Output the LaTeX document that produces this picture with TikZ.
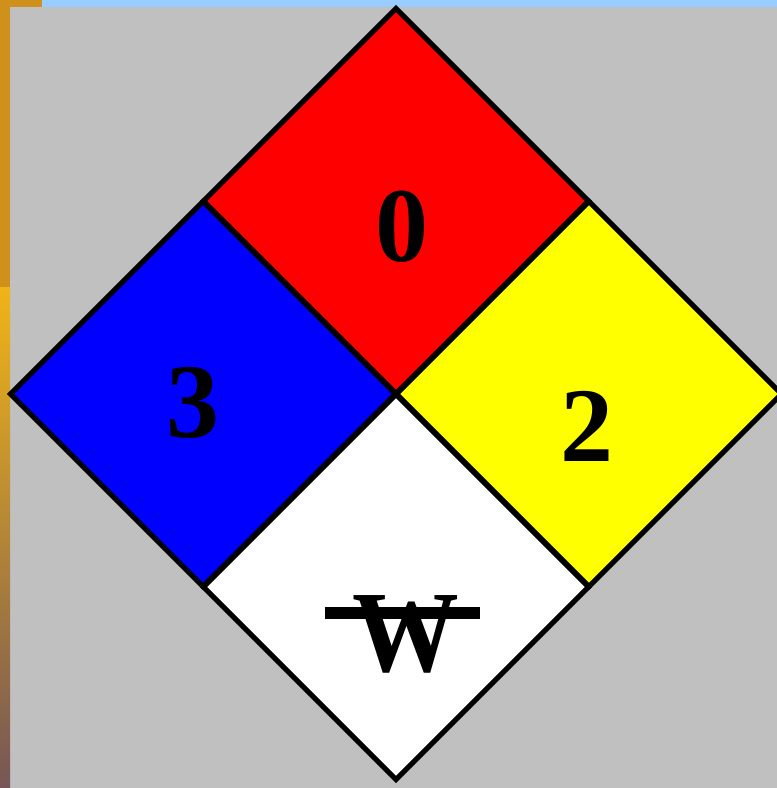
\documentclass[tikz,border=0pt]{standalone}
\usepackage{fontspec}
\setmainfont{Liberation Serif}
\usepackage{xcolor}
\definecolor{nfpaRed}{HTML}{FF0000}
\definecolor{nfpaBlue}{HTML}{0000FF}
\definecolor{nfpaYellow}{HTML}{FFFF00}
\definecolor{nfpaGreyBg}{HTML}{C0C0C0}
\definecolor{nfpaSkyStrip}{HTML}{99CCFF}
\definecolor{nfpaOchre}{HTML}{D0901C}
\definecolor{nfpaGold}{HTML}{F0B418}
\definecolor{nfpaUmber}{HTML}{765656}
\usetikzlibrary{shapes.geometric}
\tikzset{
  %% ── Panels ───────────────────────────────────────────────────────────
  %% Four equal diamonds, one per hazard, with a heavy black rule.
  panneau/.style = {diamond, aspect=1, draw=black, line width=5pt,
                    minimum width=385pt, minimum height=385pt,
                    inner sep=0pt, outer sep=0pt},
  %%
  %% ── Ratings ──────────────────────────────────────────────────────────
  chiffre/.style = {font=\fontsize{106}{106}\selectfont\bfseries,
                    text=black, inner sep=0pt},
  special/.style = {font=\fontsize{116}{116}\selectfont\bfseries,
                    text=black, inner sep=0pt, xscale=0.92},
}

\begin{document}
\begin{tikzpicture}[x=1pt, y=-1pt]

\useasboundingbox (0,0) rectangle (777,788);

% page background and the slide's edges
\fill[nfpaGreyBg] (0,0) rectangle (777,788);
\fill[nfpaSkyStrip] (42,0) rectangle (777,7);
\fill[nfpaOchre] (0,0) rectangle (42,7);
\fill[nfpaOchre] (0,0) rectangle (10,287);
\shade[top color=nfpaGold, bottom color=nfpaUmber] (0,287) rectangle (10,788);

% the four panels
\node[panneau, fill=nfpaRed]    (sante)    at (396,201) {};
\node[panneau, fill=nfpaBlue]   (feu)      at (203,394) {};
\node[panneau, fill=nfpaYellow] (reactif)  at (589,394) {};
\node[panneau, fill=white]      (risque)   at (396,587) {};

\node[chiffre] (vSante)   at (402,227) {0};
\node[chiffre] (vFeu)     at (193,403) {3};
\node[chiffre] (vReactif) at (587,426) {2};
\node[special] (vRisque)  at (406,634) {W};
\fill[black] (325,607) rectangle (480,619);

\end{tikzpicture}
\end{document}
